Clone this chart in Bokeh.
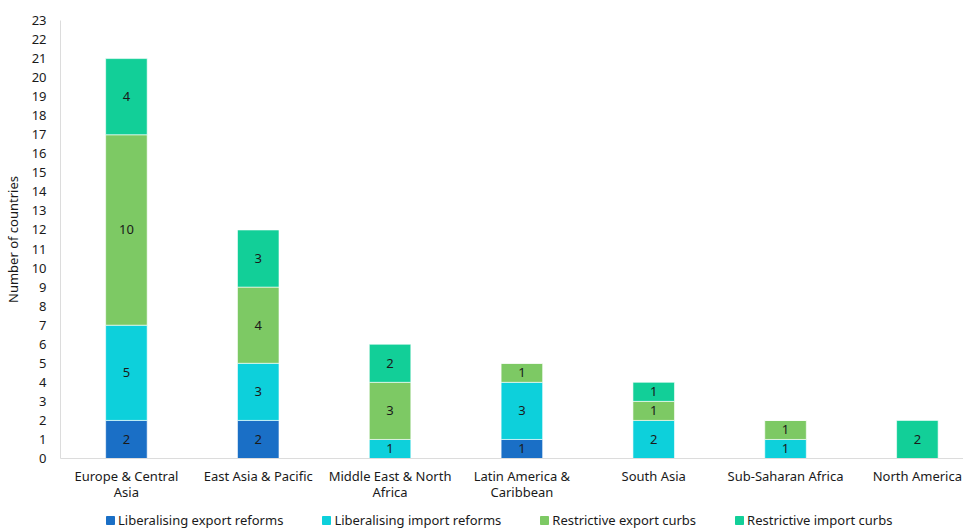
import numpy as np
from bokeh.plotting import figure
from bokeh.layouts import column
from bokeh.core.properties import value
from bokeh.models import (ColumnDataSource, Range1d, FixedTicker, Legend, LegendItem, LabelSet)
from bokeh.embed import file_html
from bokeh.resources import INLINE

categories = ["Europe & Central\nAsia", "East Asia & Pacific", "Middle East & North\nAfrica",
              "Latin America &\nCaribbean", "South Asia", "Sub-Saharan Africa", "North America"]
series_names = ["Liberalising export reforms", "Liberalising import reforms",
                "Restrictive export curbs", "Restrictive import curbs"]
lib_export = [2, 2, 0, 1, 0, 0, 0]
lib_import = [5, 3, 1, 3, 2, 1, 0]
res_export = [10, 4, 3, 1, 1, 1, 0]
res_import = [4, 3, 2, 0, 1, 0, 2]
y_ticks = list(range(0, 24))
colors = ["#1a6fc6", "#0dd0db", "#7dc964", "#12cf98"]

FONT = "Noto Sans"
keys = ["le", "li", "re", "ri"]
x = list(range(len(categories)))
src = ColumnDataSource(dict(x=x, le=lib_export, li=lib_import, re=res_export, ri=res_import))

p = figure(width=963, height=508, output_backend="svg", toolbar_location=None,
           x_range=Range1d(-0.5, 6.35), y_range=Range1d(0, 23),
           min_border_left=50, min_border_right=0, min_border_top=20, min_border_bottom=50)
p.outline_line_color = None
p.xgrid.visible = False
p.ygrid.visible = False

rs = p.vbar_stack(keys, x="x", width=0.315, source=src, color=colors,
                  line_color="white", line_width=0.6)

# labels
vals = np.array([lib_export, lib_import, res_export, res_import], dtype=float)
cum = np.cumsum(vals, axis=0)
lx, ly, lt = [], [], []
for s in range(vals.shape[0]):
    for i in range(vals.shape[1]):
        if vals[s, i] > 0:
            lx.append(x[i])
            ly.append(cum[s, i] - vals[s, i] / 2)
            lt.append(str(int(vals[s, i])))
lsrc = ColumnDataSource(dict(x=lx, y=ly, t=lt))
p.add_layout(LabelSet(x="x", y="y", text="t", source=lsrc, text_align="center",
                      text_baseline="middle", text_font=value(FONT), text_font_size="13px",
                      text_color="#1a1a1a"))

# axes
p.xaxis.ticker = FixedTicker(ticks=x)
p.xaxis.major_label_overrides = {i: c for i, c in zip(x, categories)}
p.yaxis.ticker = FixedTicker(ticks=y_ticks)
for ax in (p.xaxis, p.yaxis):
    ax.axis_line_color = "#dcdcdc"
    ax.axis_line_width = 1
    ax.major_tick_line_color = None
    ax.minor_tick_line_color = None
    ax.major_label_text_font = FONT
    ax.major_label_text_font_size = "13px"
    ax.major_label_text_color = "#1a1a1a"
p.xaxis.major_label_text_line_height = 0.9
p.xaxis.major_label_standoff = 2
p.yaxis.major_label_standoff = 8
p.yaxis.axis_label = "Number of countries"
p.yaxis.axis_label_text_font = FONT
p.yaxis.axis_label_text_font_size = "13px"
p.yaxis.axis_label_text_font_style = "normal"
p.yaxis.axis_label_text_color = "#1a1a1a"
p.yaxis.axis_label_standoff = 7

# legend in a strip figure below
lg = figure(width=963, height=21, output_backend="svg", toolbar_location=None,
            x_range=Range1d(0, 1), y_range=Range1d(0, 1),
            min_border_left=0, min_border_right=0, min_border_top=0, min_border_bottom=0)
lg.axis.visible = False
lg.grid.visible = False
lg.outline_line_color = None
hidden = ColumnDataSource(dict(x=[-5.0], top=[-5.0]))
lrs = [lg.vbar(x="x", top="top", width=0.1, source=hidden, color=c) for c in colors]
legend = Legend(items=[LegendItem(label=n, renderers=[r]) for n, r in zip(series_names, lrs)],
                orientation="horizontal", location=(45, 0),
                glyph_width=10, glyph_height=10, label_standoff=3, spacing=38,
                label_text_font=FONT, label_text_font_size="13px", label_text_color="#1a1a1a",
                border_line_color=None, background_fill_alpha=0, padding=2, margin=0)
lg.add_layout(legend)

layout = column(p, lg, spacing=0)
open("out.html", "w").write(file_html(layout, INLINE))
